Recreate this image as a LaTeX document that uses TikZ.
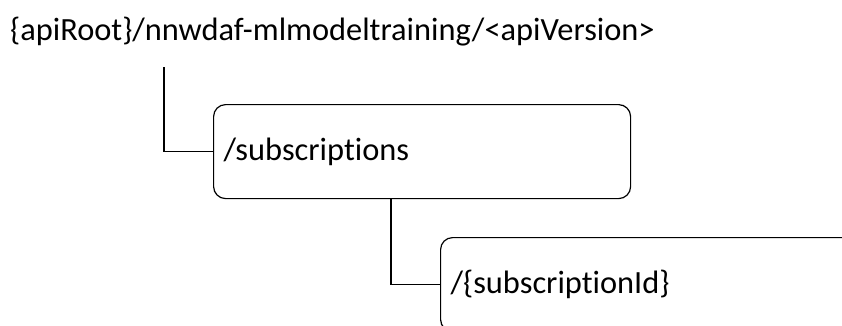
\documentclass[tikz,border=0pt]{standalone}
\usepackage{fontspec}
\setmainfont{Carlito}[Ligatures=NoCommon]
\begin{document}
\begin{tikzpicture}[x=1pt,y=-1pt,
  lbl/.style={font=\fontsize{32.4}{38}\selectfont, inner sep=0pt},
  resbox/.style={draw, line width=1.2pt, rounded corners=12pt, anchor=north west,
    minimum height=94pt, inner xsep=10pt, align=left, font=\fontsize{32.4}{38}\selectfont},
  conn/.style={draw, line width=1.1pt}]
\clip (0,0) rectangle (842,325);
\useasboundingbox (0,0) rectangle (842,325);
\node[lbl, anchor=base west] (root) at (10,40) {\{apiRoot\}/nnwdaf-mlmodeltraining/<apiVersion>};
\node[resbox, minimum width=417pt, text width=397pt] (s1) at (213,104) {/subscriptions};
\node[resbox, minimum width=430pt, text width=410pt] (s2) at (440,237) {/\{subscriptionId\}};
\coordinate (r1) at (164,67);
\draw[conn] (r1) |- (s1.west);
\draw[conn] ([xshift=178pt]s1.south west) |- (s2.west);
\end{tikzpicture}
\end{document}
